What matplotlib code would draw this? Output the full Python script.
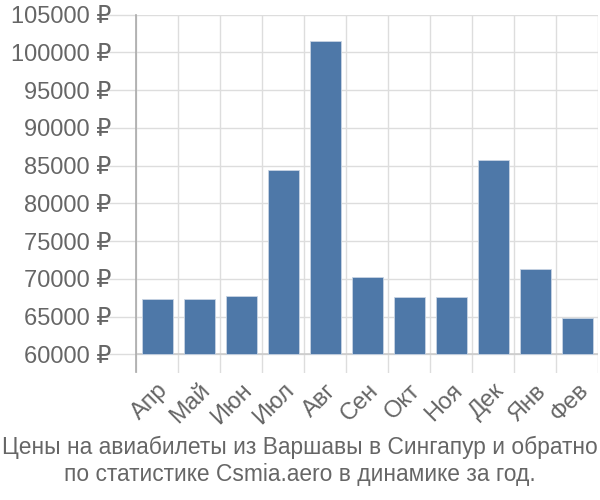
import matplotlib.pyplot as plt
import numpy as np

plt.rcParams['font.family'] = ['Liberation Sans', 'DejaVu Sans']

months = ['Апр', 'Май', 'Июн', 'Июл', 'Авг', 'Сен', 'Окт', 'Ноя', 'Дек', 'Янв', 'Фев']
prices = [67300, 67300, 67700, 84350, 101450, 70300, 67600, 67600, 85800, 71300, 64770]
yticks = np.arange(60000, 105001, 5000)
title = ('Цены на авиабилеты из Варшавы в Сингапур и обратно\n'
         'по статистике Csmia.aero в динамике за год.')

txt = '#666666'
grid = '#dddddd'

fig = plt.figure(figsize=(6, 5), dpi=100)
ax = fig.add_axes([0.227, 0.255, 0.77, 0.716])

x = np.arange(len(months))
base = 60000
ax.bar(x, np.array(prices) - base, bottom=base, width=0.74,
       color='#4e78a8', edgecolor='#c8d4e3', linewidth=0.6, zorder=3)

ax.set_xlim(-0.5, len(months) - 0.5)
ax.set_ylim(57600, 105000)

# horizontal grid from 60000 up, drawn as lines
for v in yticks:
    ax.axhline(v, color=grid, lw=1, zorder=1)
ax.axhline(base, color='#cccccc', lw=1.2, zorder=2)
for b in np.arange(-0.5, len(months) + 0.5, 1):
    ax.axvline(b, color=grid, lw=1, zorder=1)

ax.set_yticks(yticks)
ax.set_yticklabels([f'{v} ₽' for v in yticks], color=txt, fontsize=17)
ax.tick_params(axis='y', length=21, color=grid, width=1, pad=-3)

ax.set_xticks(x)
ax.set_xticklabels(months, rotation=45, ha='right', va='top',
                   rotation_mode='anchor', color=txt, fontsize=17)
ax.tick_params(axis='x', length=0, pad=5)

for s in ['top', 'right', 'bottom']:
    ax.spines[s].set_visible(False)
ax.spines['left'].set_color('#aaaaaa')
ax.spines['left'].set_linewidth(1.2)

fig.text(0.5, 0.078, title, ha='center', va='center', color=txt,
         fontsize=16.4, linespacing=1.22)

fig.savefig('out.png', dpi=100)
